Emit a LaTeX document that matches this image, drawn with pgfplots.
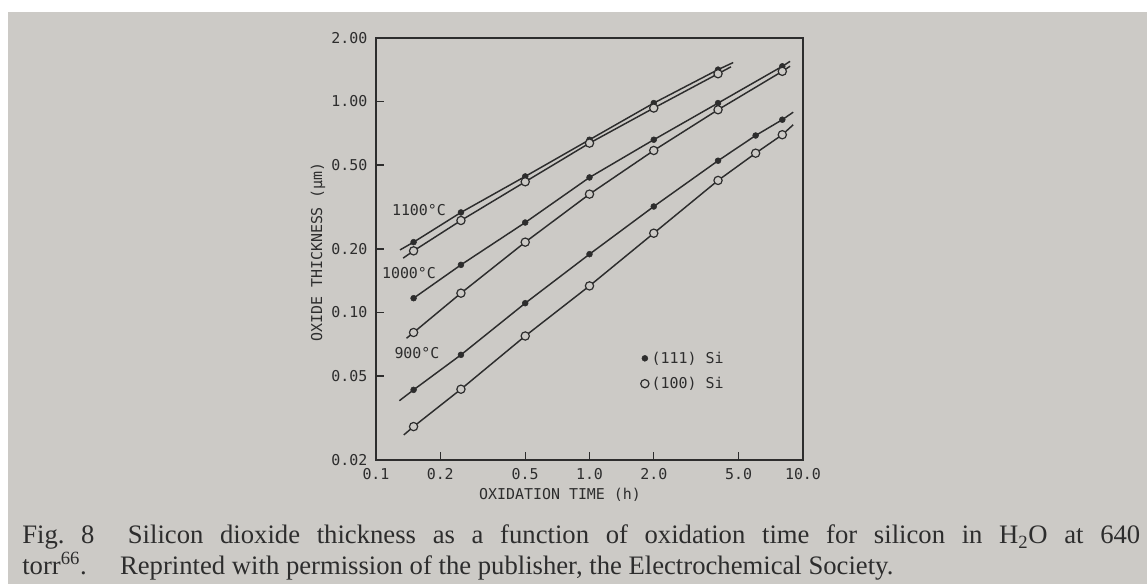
\documentclass[border=0pt]{standalone}
\usepackage{fontspec}
\setmainfont{Liberation Serif}
\newfontfamily\plotfont{DejaVu Sans Mono}
\usepackage{pgfplots}
\pgfplotsset{compat=1.18}
\definecolor{paper}{RGB}{204,202,198}
\definecolor{ink}{RGB}{45,45,45}
\newcommand{\pf}{\plotfont\fontsize{11.2}{13}\selectfont}

\pgfplotsset{
  fitline/.style={ink, line width=1.1pt, no marks, forget plot},
  sfill/.style={ink, only marks, mark=*, mark size=2.2pt},
  sopen/.style={ink, only marks, mark=*, mark size=3.1pt,
    mark options={fill=paper, draw=ink, line width=0.9pt}},
}

\begin{document}
\begin{tikzpicture}[x=0.75pt,y=0.75pt]
% 1 px of the reference = 0.75pt, axis box lower-left at pixel (376,460)
\fill[white] (-376,-124) rectangle (771,460);
\fill[paper] (-368,-124) rectangle (771,448);

\begin{axis}[
  at={(0,0)}, anchor=south west,
  scale only axis, width=320.25pt, height=316.5pt,
  xmode=log, ymode=log,
  xmin=0.1, xmax=10, ymin=0.02, ymax=2,
  xtick={0.1,0.2,0.5,1,2,5,10},
  xticklabels={0.1,0.2,0.5,1.0,2.0,5.0,10.0},
  ytick={0.02,0.05,0.1,0.2,0.5,1,2},
  yticklabels={0.02,0.05,0.10,0.20,0.50,1.00,2.00},
  xminorticks=false, yminorticks=false,
  tick align=inside, xtick pos=bottom, ytick pos=left,
  major tick length=6pt,
  axis line style={ink, line width=1pt},
  every tick/.style={ink, line width=1pt},
  tick label style={font=\pf, text=ink},
  xticklabel style={yshift=-3pt},
  yticklabel style={xshift=-3pt},
  xlabel={OXIDATION TIME (h)},
  ylabel={OXIDE THICKNESS (μm)},
  label style={font=\pf, text=ink},
  xlabel style={at={(axis description cs:0.431,-0.082)}, anchor=center},
  ylabel style={at={(axis description cs:-0.136,0.493)}, anchor=center},
  legend style={draw=none, fill=none, font=\pf, text=ink,
    at={(rel axis cs:0.61,0.27)}, anchor=north west, row sep=5pt},
  legend cell align=left,
]
% fitted lines
\addplot[fitline] coordinates {(0.1296,0.198) (0.15,0.2155) (0.25,0.298) (0.5,0.4415) (1,0.659) (2,0.983) (4,1.416) (4.71,1.53)};
\addplot[fitline] coordinates {(0.134,0.181) (0.15,0.196) (0.25,0.273) (0.5,0.4165) (1,0.635) (2,0.931) (4,1.354) (4.6,1.46)};
\addplot[fitline] coordinates {(0.15,0.1169) (0.25,0.1682) (0.5,0.267) (1,0.4366) (2,0.659) (4,0.983) (8,1.468) (8.7,1.55)};
\addplot[fitline] coordinates {(0.139,0.0755) (0.15,0.0804) (0.25,0.1235) (0.5,0.2155) (1,0.364) (2,0.586) (4,0.914) (8,1.39) (8.7,1.47)};
\addplot[fitline] coordinates {(0.1287,0.0382) (0.15,0.043) (0.25,0.063) (0.5,0.1107) (1,0.189) (2,0.318) (4,0.524) (6,0.69) (8,0.82) (9.0,0.89)};
\addplot[fitline] coordinates {(0.135,0.0263) (0.15,0.0288) (0.25,0.0433) (0.5,0.0774) (1,0.1337) (2,0.2376) (4,0.4226) (6,0.569) (8,0.696) (9.0,0.776)};

% 1100 C
\addplot[sfill] coordinates {(0.15,0.2155) (0.25,0.298) (0.5,0.4415) (1,0.659) (2,0.983) (4,1.416)};
\addlegendentry{(111) Si}
\addplot[sopen] coordinates {(0.15,0.196) (0.25,0.273) (0.5,0.4165) (1,0.635) (2,0.931) (4,1.354)};
\addlegendentry{(100) Si}
% 1000 C
\addplot[sfill, forget plot] coordinates {(0.15,0.1169) (0.25,0.1682) (0.5,0.267) (1,0.4366) (2,0.659) (4,0.983) (8,1.468)};
\addplot[sopen, forget plot] coordinates {(0.15,0.0804) (0.25,0.1235) (0.5,0.2155) (1,0.364) (2,0.586) (4,0.914) (8,1.39)};
% 900 C
\addplot[sfill, forget plot] coordinates {(0.15,0.043) (0.25,0.063) (0.5,0.1107) (1,0.189) (2,0.318) (4,0.524) (6,0.69) (8,0.82)};
\addplot[sopen, forget plot] coordinates {(0.15,0.0288) (0.25,0.0433) (0.5,0.0774) (1,0.1337) (2,0.2376) (4,0.4226) (6,0.569) (8,0.696)};

\node[font=\pf, text=ink] at (rel axis cs:0.1007,0.592) {1100°C};
\node[font=\pf, text=ink] at (rel axis cs:0.0773,0.443) {1000°C};
\node[font=\pf, text=ink] at (rel axis cs:0.096,0.2536) {900°C};
\end{axis}

\node[anchor=base west, inner sep=0, text=ink, font=\fontsize{20}{24}\selectfont]
  at (-354,-84) {\makebox[838.5pt][s]{Fig.~8\ \ Silicon dioxide thickness as a function of oxidation time for silicon in H\textsubscript{2}O at 640}};
\node[anchor=base west, inner sep=0, text=ink, font=\fontsize{20}{24}\selectfont]
  at (-354,-115) {torr\textsuperscript{66}.\quad\ Reprinted with permission of the publisher, the Electrochemical Society.};

\pgfresetboundingbox
\useasboundingbox (-376,-124) rectangle (771,460);
\end{tikzpicture}
\end{document}
